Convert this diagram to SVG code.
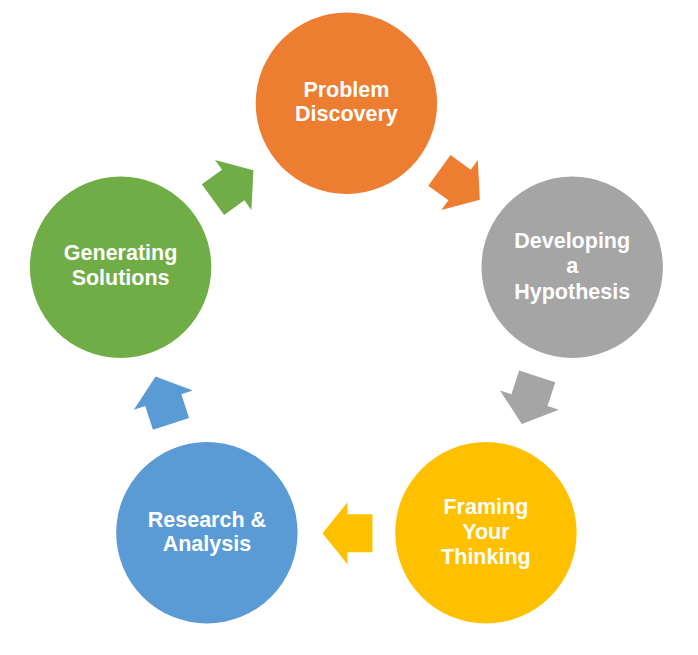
<svg xmlns="http://www.w3.org/2000/svg" width="698" height="655" viewBox="0 0 698 655">
<style>
.lbl{font-family:"Liberation Sans",Arial,sans-serif;font-weight:bold;font-size:21.5px;fill:#FFFFFF;text-anchor:middle}
</style>
<defs>
<polygon id="arr" points="25,0 0,-31 0,-19 -25,-19 -25,19 0,19 0,31"/>
</defs>
<rect width="698" height="655" fill="#FFFFFF"/>
<g id="connectors">
<use href="#arr" fill="#ED7D31" transform="translate(459.6,185) rotate(36)"/>
<use href="#arr" fill="#A5A5A5" transform="translate(529.5,400.2) rotate(108)"/>
<use href="#arr" fill="#FFC000" transform="translate(347.5,533.2) rotate(180)"/>
<use href="#arr" fill="#5B9BD5" transform="translate(163.3,400.2) rotate(252)"/>
<use href="#arr" fill="#70AD47" transform="translate(233.2,185) rotate(324)"/>
</g>
<g id="problem-discovery">
<circle cx="346.4" cy="103.3" r="90.7" fill="#ED7D31"/>
<text class="lbl" x="346.4" y="96.7">Problem</text>
<text class="lbl" x="346.4" y="121.2">Discovery</text>
</g>
<g id="developing-hypothesis">
<circle cx="572.2" cy="267.3" r="90.7" fill="#A5A5A5"/>
<text class="lbl" x="572.2" y="248.3">Developing</text>
<text class="lbl" x="572.2" y="273.3">a</text>
<text class="lbl" x="572.2" y="298.5">Hypothesis</text>
</g>
<g id="framing-your-thinking">
<circle cx="485.9" cy="532.8" r="90.7" fill="#FFC000"/>
<text class="lbl" x="485.9" y="513.8">Framing</text>
<text class="lbl" x="485.9" y="538.8">Your</text>
<text class="lbl" x="485.9" y="564">Thinking</text>
</g>
<g id="research-analysis">
<circle cx="206.9" cy="532.8" r="90.7" fill="#5B9BD5"/>
<text class="lbl" x="206.9" y="526.7">Research &amp;</text>
<text class="lbl" x="206.9" y="550.9">Analysis</text>
</g>
<g id="generating-solutions">
<circle cx="120.6" cy="267.3" r="90.7" fill="#70AD47"/>
<text class="lbl" x="120.6" y="260.3">Generating</text>
<text class="lbl" x="120.6" y="285">Solutions</text>
</g>
</svg>
